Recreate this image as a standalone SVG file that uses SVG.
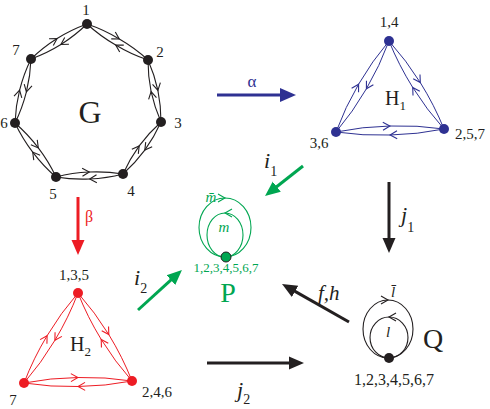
<svg xmlns="http://www.w3.org/2000/svg" width="490" height="409" viewBox="0 0 490 409">
<style>
text{font-family:"Liberation Serif","Times New Roman",serif;}
.k{fill:#231f20}.bl{fill:#2e3192}.rd{fill:#ed1c24}.gn{fill:#00a651}
.lab{font-size:15px}
.it{font-style:italic}
.ge{fill:none;stroke:#231f20;stroke-width:1.1;marker-mid:url(#ck)}
.h1e{fill:none;stroke:#2e3192;stroke-width:1;marker-mid:url(#cb)}
.h2e{fill:none;stroke:#ed1c24;stroke-width:1;marker-mid:url(#cr)}
.pe{fill:none;stroke:#00a651;stroke-width:1.1;marker-mid:url(#cg)}
.qe{fill:none;stroke:#231f20;stroke-width:1.1;marker-mid:url(#ck)}
.arr{fill:none;stroke-width:3}
</style>
<defs>
<marker id="ck" viewBox="-9 -5 11 10" markerWidth="11" markerHeight="10" refX="0" refY="0" orient="auto" markerUnits="userSpaceOnUse"><path d="M-7,-4 L0,0 L-7,4" fill="none" stroke="#231f20" stroke-width="1.1"/></marker>
<marker id="cb" viewBox="-9 -5 11 10" markerWidth="11" markerHeight="10" refX="0" refY="0" orient="auto" markerUnits="userSpaceOnUse"><path d="M-7,-4 L0,0 L-7,4" fill="none" stroke="#2e3192" stroke-width="1.1"/></marker>
<marker id="cr" viewBox="-9 -5 11 10" markerWidth="11" markerHeight="10" refX="0" refY="0" orient="auto" markerUnits="userSpaceOnUse"><path d="M-7,-4 L0,0 L-7,4" fill="none" stroke="#ed1c24" stroke-width="1.1"/></marker>
<marker id="cg" viewBox="-9 -5 11 10" markerWidth="11" markerHeight="10" refX="0" refY="0" orient="auto" markerUnits="userSpaceOnUse"><path d="M-7,-4 L0,0 L-7,4" fill="none" stroke="#00a651" stroke-width="1.1"/></marker>
<marker id="ak" viewBox="0 -8 17 16" markerWidth="17" markerHeight="16" refX="1" refY="0" orient="auto" markerUnits="userSpaceOnUse"><path d="M0,-6.5 L15,0 L0,6.5 Z" fill="#231f20"/></marker>
<marker id="ab" viewBox="0 -8 17 16" markerWidth="17" markerHeight="16" refX="1" refY="0" orient="auto" markerUnits="userSpaceOnUse"><path d="M0,-7 L16,0 L0,7 Z" fill="#2e3192"/></marker>
<marker id="ar" viewBox="0 -8 17 16" markerWidth="17" markerHeight="16" refX="1" refY="0" orient="auto" markerUnits="userSpaceOnUse"><path d="M0,-6.5 L15,0 L0,6.5 Z" fill="#ed1c24"/></marker>
<marker id="ag" viewBox="0 -8 17 16" markerWidth="17" markerHeight="16" refX="1" refY="0" orient="auto" markerUnits="userSpaceOnUse"><path d="M0,-6.5 L15,0 L0,6.5 Z" fill="#00a651"/></marker>
</defs>

<g id="connectors">
<path class="ge" d="M87,24 A160,160 0 0 1 119.3,39 A160,160 0 0 1 148,60"/>
<path class="ge" d="M148,60 A160,160 0 0 1 115.7,45 A160,160 0 0 1 87,24"/>
<path class="ge" d="M148,60 A160,160 0 0 1 157.9,90.3 A160,160 0 0 1 161,122"/>
<path class="ge" d="M161,122 A160,160 0 0 1 151.1,91.7 A160,160 0 0 1 148,60"/>
<path class="ge" d="M161,122 A160,160 0 0 1 144.8,150.1 A160,160 0 0 1 123,174"/>
<path class="ge" d="M123,174 A160,160 0 0 1 139.2,145.9 A160,160 0 0 1 161,122"/>
<path class="ge" d="M123,174 A160,160 0 0 1 89.7,179 A160,160 0 0 1 56,177"/>
<path class="ge" d="M56,177 A160,160 0 0 1 89.3,172 A160,160 0 0 1 123,174"/>
<path class="ge" d="M56,177 A160,160 0 0 1 32.7,152.1 A160,160 0 0 1 15,123"/>
<path class="ge" d="M15,123 A160,160 0 0 1 38.3,147.9 A160,160 0 0 1 56,177"/>
<path class="ge" d="M15,123 A160,160 0 0 1 19.6,90.2 A160,160 0 0 1 31,59"/>
<path class="ge" d="M31,59 A160,160 0 0 1 26.4,91.8 A160,160 0 0 1 15,123"/>
<path class="ge" d="M31,59 A160,160 0 0 1 57.1,38.5 A160,160 0 0 1 87,24"/>
<path class="ge" d="M87,24 A160,160 0 0 1 60.9,44.5 A160,160 0 0 1 31,59"/>
<path class="h1e" d="M389,41 A300,300 0 0 1 420.3,82.6 A300,300 0 0 1 444,129"/>
<path class="h1e" d="M444,129 A300,300 0 0 1 412.7,87.4 A300,300 0 0 1 389,41"/>
<path class="h1e" d="M444,129 A300,300 0 0 1 390.1,135 A300,300 0 0 1 336,132"/>
<path class="h1e" d="M336,132 A300,300 0 0 1 389.9,126 A300,300 0 0 1 444,129"/>
<path class="h1e" d="M336,132 A300,300 0 0 1 358.6,84.2 A300,300 0 0 1 389,41"/>
<path class="h1e" d="M389,41 A300,300 0 0 1 366.4,88.8 A300,300 0 0 1 336,132"/>
<path class="h2e" d="M78,293 A300,300 0 0 1 108.8,334.6 A300,300 0 0 1 132,381"/>
<path class="h2e" d="M132,381 A300,300 0 0 1 101.2,339.4 A300,300 0 0 1 78,293"/>
<path class="h2e" d="M132,381 A300,300 0 0 1 78.1,386.5 A300,300 0 0 1 24,383"/>
<path class="h2e" d="M24,383 A300,300 0 0 1 77.9,377.5 A300,300 0 0 1 132,381"/>
<path class="h2e" d="M24,383 A300,300 0 0 1 47.1,335.7 A300,300 0 0 1 78,293"/>
<path class="h2e" d="M78,293 A300,300 0 0 1 54.9,340.3 A300,300 0 0 1 24,383"/>
<path class="pe" d="M225,257 A26,29.5 0 0 1 225,198 A26,29.5 0 0 1 225,257"/>
<path class="pe" d="M225,257 A18,22 0 0 0 225,213 A18,22 0 0 0 225,257"/>
<path class="qe" d="M388,358 A25,29 0 0 1 388,300 A25,29 0 0 1 388,358"/>
<path class="qe" d="M389,358 A19,20.5 0 0 0 389,317 A19,20.5 0 0 0 389,358"/>
<line class="arr" x1="217" y1="95" x2="281" y2="95" stroke="#2e3192" marker-end="url(#ab)"/>
<line class="arr" x1="78" y1="197" x2="78" y2="241" stroke="#ed1c24" marker-end="url(#ar)"/>
<line class="arr" x1="303" y1="166" x2="276" y2="187.3" stroke="#00a651" marker-end="url(#ag)"/>
<line class="arr" x1="138" y1="310" x2="171.6" y2="279.4" stroke="#00a651" marker-end="url(#ag)"/>
<line class="arr" x1="389" y1="182" x2="389" y2="239" stroke="#231f20" marker-end="url(#ak)"/>
<line class="arr" x1="349" y1="322" x2="294.2" y2="290.9" stroke="#231f20" marker-end="url(#ak)"/>
<line class="arr" x1="207" y1="363" x2="290" y2="363" stroke="#231f20" marker-end="url(#ak)"/>
</g>

<g id="labels-arrows">
<text x="252" y="87" font-size="17" class="bl" text-anchor="middle">α</text>
<text x="89" y="222" font-size="16" class="rd" text-anchor="middle">β</text>
<text x="264" y="168" font-size="22" class="k it">i<tspan font-size="14" font-style="normal" dy="8">1</tspan></text>
<text x="134" y="285" font-size="22" class="k it">i<tspan font-size="14" font-style="normal" dy="8">2</tspan></text>
<text x="401" y="222" font-size="22" class="k it">j<tspan font-size="14" font-style="normal" dy="10">1</tspan></text>
<text x="237" y="397" font-size="22" class="k it">j<tspan font-size="14" font-style="normal" dy="7">2</tspan></text>
<text x="318" y="300" font-size="21" class="k it">f,h</text>
</g>

<g id="graph-G">
<g id="G1"><circle cx="87" cy="24" r="5" class="k"/><text x="86" y="15" class="k lab" text-anchor="middle">1</text></g>
<g id="G2"><circle cx="148" cy="60" r="5" class="k"/><text x="160" y="57" class="k lab" text-anchor="middle">2</text></g>
<g id="G3"><circle cx="161" cy="122" r="5" class="k"/><text x="178" y="128" class="k lab" text-anchor="middle">3</text></g>
<g id="G4"><circle cx="123" cy="174" r="5" class="k"/><text x="131" y="196" class="k lab" text-anchor="middle">4</text></g>
<g id="G5"><circle cx="56" cy="177" r="5" class="k"/><text x="53" y="199" class="k lab" text-anchor="middle">5</text></g>
<g id="G6"><circle cx="15" cy="123" r="5" class="k"/><text x="4" y="128" class="k lab" text-anchor="middle">6</text></g>
<g id="G7"><circle cx="31" cy="59" r="5" class="k"/><text x="16" y="55" class="k lab" text-anchor="middle">7</text></g>
<text x="90" y="123" font-size="32" class="k" text-anchor="middle">G</text>
</g>

<g id="graph-H1">
<g id="H1-14"><circle cx="389" cy="41" r="5" class="bl"/><text x="389" y="27" class="k lab" text-anchor="middle">1,4</text></g>
<g id="H1-257"><circle cx="444" cy="129" r="5" class="bl"/><text x="470" y="139" class="k lab" text-anchor="middle">2,5,7</text></g>
<g id="H1-36"><circle cx="336" cy="132" r="5" class="bl"/><text x="319" y="148" class="k lab" text-anchor="middle">3,6</text></g>
<text x="385" y="105" font-size="20" class="k">H<tspan font-size="13" dy="5">1</tspan></text>
</g>

<g id="graph-H2">
<g id="H2-135"><circle cx="78" cy="293" r="5" class="rd"/><text x="74" y="280" class="k lab" text-anchor="middle">1,3,5</text></g>
<g id="H2-246"><circle cx="132" cy="381" r="5" class="rd"/><text x="142" y="397" class="k lab">2,4,6</text></g>
<g id="H2-7"><circle cx="24" cy="383" r="5" class="rd"/><text x="13" y="405" class="k lab" text-anchor="middle">7</text></g>
<text x="70" y="351" font-size="20" class="k">H<tspan font-size="13" dy="5">2</tspan></text>
</g>

<g id="graph-P">
<circle cx="226" cy="257" r="5" fill="#00a651" stroke="#231f20" stroke-width="1"/>
<text x="226" y="272" font-size="13" class="gn" text-anchor="middle">1,2,3,4,5,6,7</text>
<text x="211" y="202" font-size="15" class="gn it" text-anchor="middle">m&#772;</text>
<text x="224" y="232" font-size="15" class="gn it" text-anchor="middle">m</text>
<text x="228" y="302" font-size="28" class="gn" text-anchor="middle">P</text>
</g>

<g id="graph-Q">
<circle cx="389" cy="358" r="5" class="k"/>
<text x="394" y="385" font-size="16" class="k" text-anchor="middle">1,2,3,4,5,6,7</text>
<text x="393" y="297" font-size="15" class="k it" text-anchor="middle">l&#772;</text>
<text x="388" y="337" font-size="15" class="k it" text-anchor="middle">l</text>
<text x="433" y="348" font-size="28" class="k" text-anchor="middle">Q</text>
</g>
</svg>
